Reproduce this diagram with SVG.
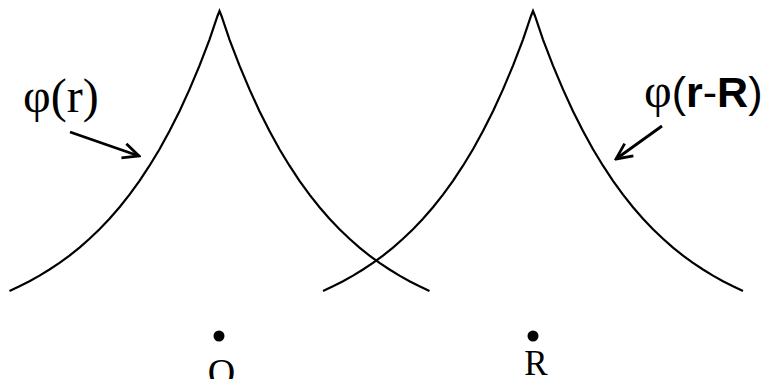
<svg xmlns="http://www.w3.org/2000/svg" width="771" height="379" viewBox="0 0 771 379">
<style>
.curve{fill:none;stroke:#000;stroke-width:2.2;stroke-linejoin:miter}
.arrow{fill:none;stroke:#000;stroke-width:2.8}
.serif{font-family:"Liberation Serif","Times New Roman",serif;fill:#000}
.sans{font-family:"Liberation Sans",Arial,sans-serif;fill:#000}
</style>
<defs>
<path id="cusp" d="M-210,290.9 L-200,286.3 L-190,281.2 L-180,275.6 L-170,269.5 L-160,262.9 L-150,255.6 L-140,247.6 L-130,238.8 L-120,229.2 L-110,218.7 L-100,207.2 L-90,194.6 L-80,180.8 L-70,165.7 L-60,149.2 L-50,131 L-40,111.2 L-30,89.4 L-20,65.6 L-10,39.6 L-2,16 L0,11 L2,16 L10,39.6 L20,65.6 L30,89.4 L40,111.2 L50,131 L60,149.2 L70,165.7 L80,180.8 L90,194.6 L100,207.2 L110,218.7 L120,229.2 L130,238.8 L140,247.6 L150,255.6 L160,262.9 L170,269.5 L180,275.6 L190,281.2 L200,286.3 L210,290.9"/>
<marker id="open" viewBox="0 0 20 20" refX="18" refY="10" markerWidth="20" markerHeight="20" markerUnits="userSpaceOnUse" orient="auto">
<polyline points="2,2.5 18,10 2,17.5" fill="none" stroke="#000" stroke-width="2.8"/>
</marker>
</defs>
<g id="orbital-O">
<use href="#cusp" class="curve" transform="translate(219.5,0)"/>
</g>
<g id="orbital-R">
<use href="#cusp" class="curve" transform="translate(533,0)"/>
</g>
<g id="label-phi-r">
<text class="serif" x="23" y="112" font-size="48">φ(r)</text>
</g>
<g id="label-phi-rR">
<text x="644" y="107" font-size="43"><tspan class="serif" font-size="48">φ</tspan><tspan class="sans">(</tspan><tspan class="sans" font-weight="bold">r</tspan><tspan class="sans">-</tspan><tspan class="sans" font-weight="bold">R</tspan><tspan class="sans">)</tspan></text>
</g>
<g id="point-O">
<circle cx="219" cy="336" r="5.5"/>
<text class="serif" x="221.5" y="385" font-size="38" text-anchor="middle">O</text>
</g>
<g id="point-R">
<circle cx="533" cy="336" r="5.5"/>
<text class="serif" x="536" y="375" font-size="35" text-anchor="middle">R</text>
</g>
<g id="connectors">
<line class="arrow" x1="70" y1="132" x2="139" y2="156" marker-end="url(#open)"/>
<line class="arrow" x1="662" y1="126" x2="616" y2="159" marker-end="url(#open)"/>
</g>
</svg>
